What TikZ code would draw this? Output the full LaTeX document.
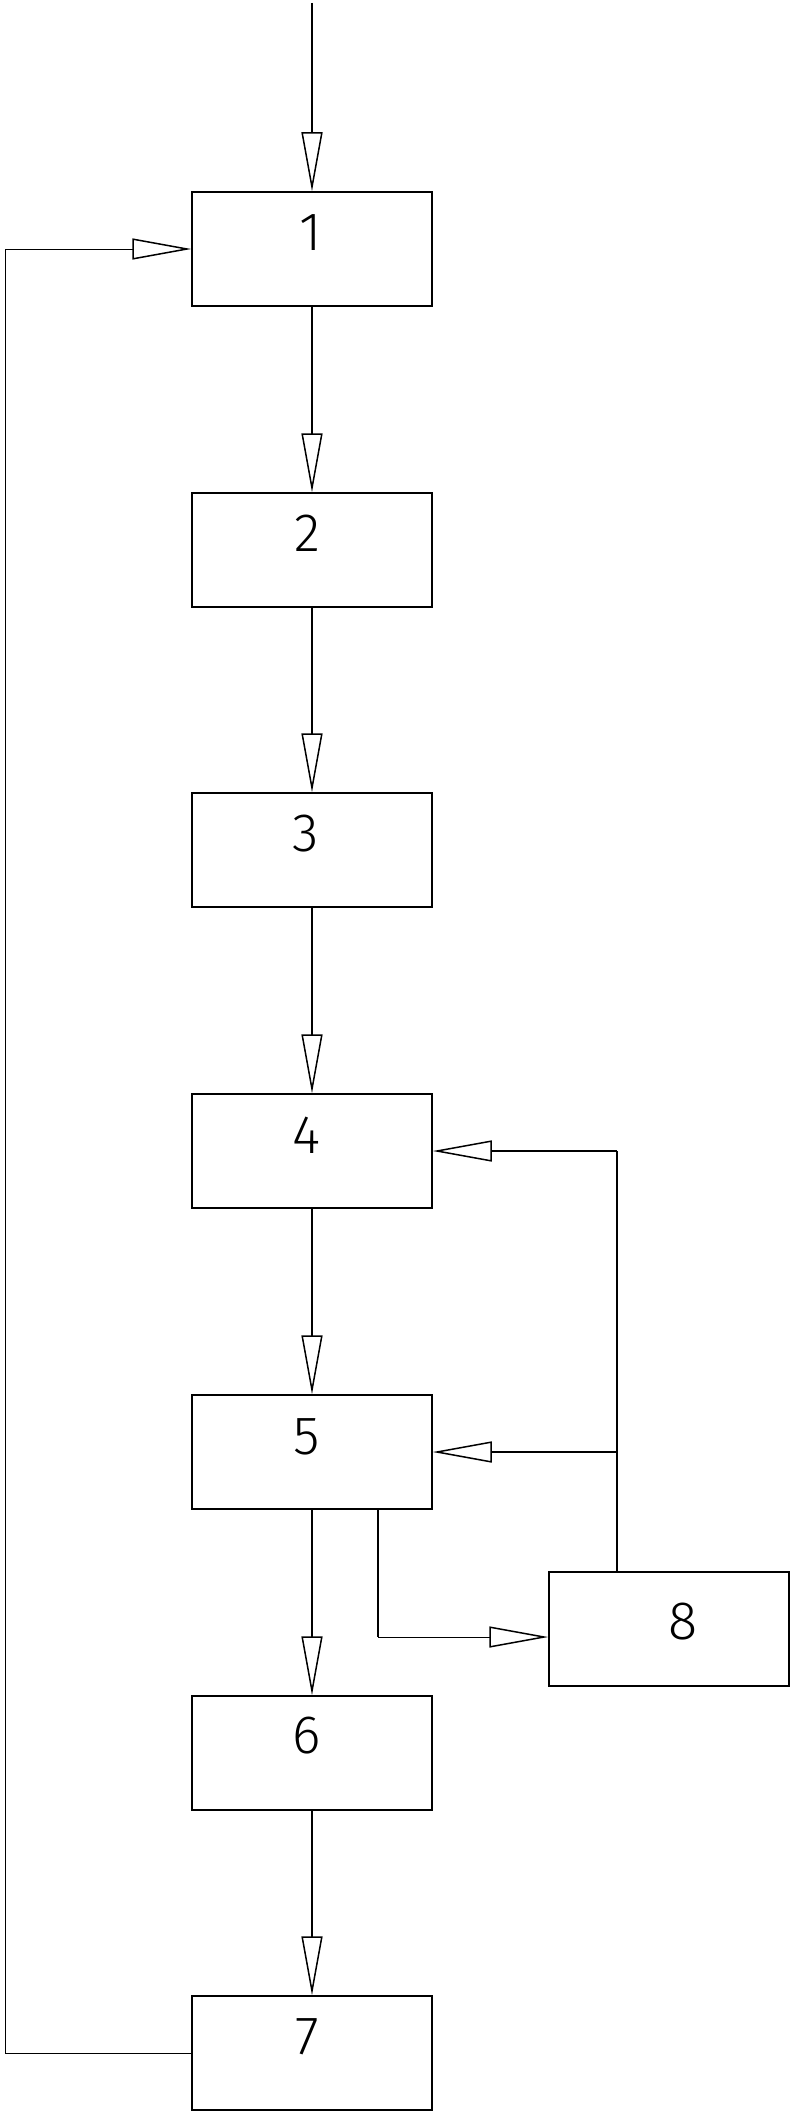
\documentclass[tikz,border=0pt]{standalone}
\usepackage{fontspec}
\setmainfont{Fira Sans Light}
\usetikzlibrary{arrows.meta}
\begin{document}
\begin{tikzpicture}[x=1pt,y=-1pt,
  blk/.style={draw,line width=1.5pt,minimum width=240pt,minimum height=114pt,inner sep=0pt},
  num/.style={font=\fontsize{54}{54}\selectfont,inner sep=0pt,text height=37pt,text depth=0pt},
  flow/.style={line width=1.5pt,-{Triangle[open,length=59pt,width=21pt,line width=1.5pt]}},
  thinflow/.style={line width=0.9pt,-{Triangle[open,length=59pt,width=21pt,line width=1.5pt]}},
  thinline/.style={line width=0.9pt},
  thickline/.style={line width=1.5pt}]
\fill[white] (0,0) rectangle (797,2119);
\useasboundingbox (0,0) rectangle (797,2119);
% boxes
\node[blk] (b1) at (312,249) {};
\node[blk] (b2) at (312,550) {};
\node[blk] (b3) at (312,850) {};
\node[blk] (b4) at (312,1151) {};
\node[blk] (b5) at (312,1452) {};
\node[blk] (b6) at (312,1753) {};
\node[blk] (b7) at (312,2053) {};
\node[blk] (b8) at (669,1629) {};
% labels
\node[num] (l1) at (311,232) {1};
\node[num] (l2) at (307,533) {2};
\node[num] (l3) at (306,833) {3};
\node[num] (l4) at (306,1135) {4};
\node[num] (l5) at (307,1436) {5};
\node[num] (l6) at (307,1735) {6};
\node[num] (l7) at (307,2036) {7};
\node[num] (l8) at (683,1621) {8};
% coordinates
\coordinate (in) at (312,3);
\coordinate (lpb) at (5,2053);
\coordinate (lpt) at (5,249);
\coordinate (j4) at (617,1151);
\coordinate (j5) at (617,1452);
\coordinate (k1) at (378,1637);
% main chain
\draw[flow] (in) -- (b1.north);
\draw[flow] (b1.south) -- (b2.north);
\draw[flow] (b2.south) -- (b3.north);
\draw[flow] (b3.south) -- (b4.north);
\draw[flow] (b4.south) -- (b5.north);
\draw[flow] (b5.south) -- (b6.north);
\draw[flow] (b6.south) -- (b7.north);
% return loop
\draw[thinflow] (b7.west) -- (lpb) -- (lpt) -- (b1.west);
% feedback from 8
\draw[thickline] (b8.north -| j4) -- (j4);
\draw[flow] (j4) -- (b4.east);
\draw[flow] (j5) -- (b5.east);
% branch 5 -> 8
\draw[thickline] (b5.south -| k1) -- (k1);
\draw[thinflow] (k1) -- (b8.west |- k1);
\end{tikzpicture}
\end{document}
